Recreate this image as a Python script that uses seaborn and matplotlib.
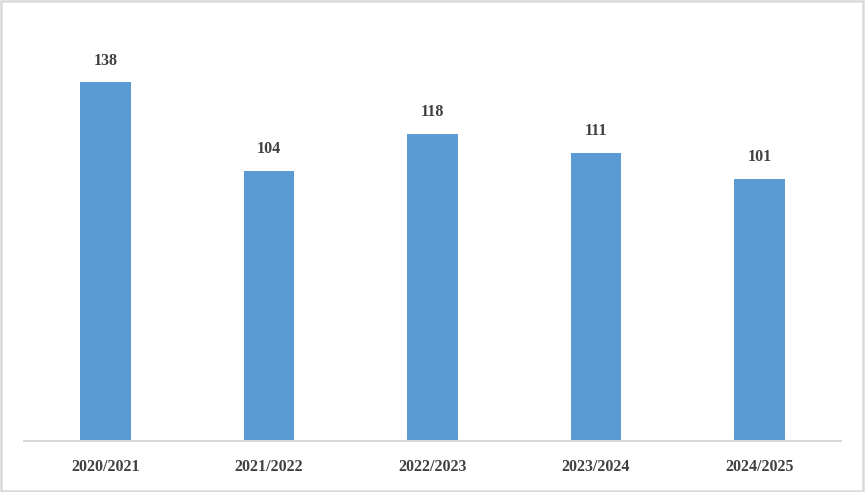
import pandas as pd
import matplotlib.pyplot as plt
import seaborn as sns
from matplotlib.patches import Rectangle

# Data
seasons = ['2020/2021', '2021/2022', '2022/2023', '2023/2024', '2024/2025']
counts = [138, 104, 118, 111, 101]

df = pd.DataFrame({'season': seasons, 'count': counts})

sns.set_style('white')
plt.rcParams['font.family'] = ['Liberation Serif', 'DejaVu Serif']

fig = plt.figure(figsize=(8.65, 4.92), dpi=100)
ax = fig.add_axes([0.0277, 0.1037, 0.9446, 0.845])

sns.barplot(data=df, x='season', y='count', color='#5b9bd5', width=0.31,
            saturation=1, linewidth=0, ax=ax)

ax.set_ylim(0, 160)
ax.set_xlim(-0.5, len(seasons) - 0.5)

# value labels above bars
for i, v in enumerate(counts):
    ax.annotate(str(v), (i, v), xytext=(0, 10), textcoords='offset points',
                ha='center', va='bottom', fontsize=11.5, fontweight='bold',
                color='#404040')

ax.set_xlabel('')
ax.set_ylabel('')
ax.set_yticks([])
ax.tick_params(axis='x', length=0, pad=13, labelsize=11.5, labelcolor='#404040')
for lbl in ax.get_xticklabels():
    lbl.set_fontweight('bold')

for s in ['top', 'right', 'left']:
    ax.spines[s].set_visible(False)
ax.spines['bottom'].set_color('#d9d9d9')
ax.spines['bottom'].set_linewidth(1.5)

# light border around the figure
fig.patches.append(Rectangle((0.001, 0.002), 0.997, 0.995, transform=fig.transFigure,
                             fill=False, edgecolor='#d9d9d9', linewidth=1.8))

plt.savefig('out.png', dpi=100)
